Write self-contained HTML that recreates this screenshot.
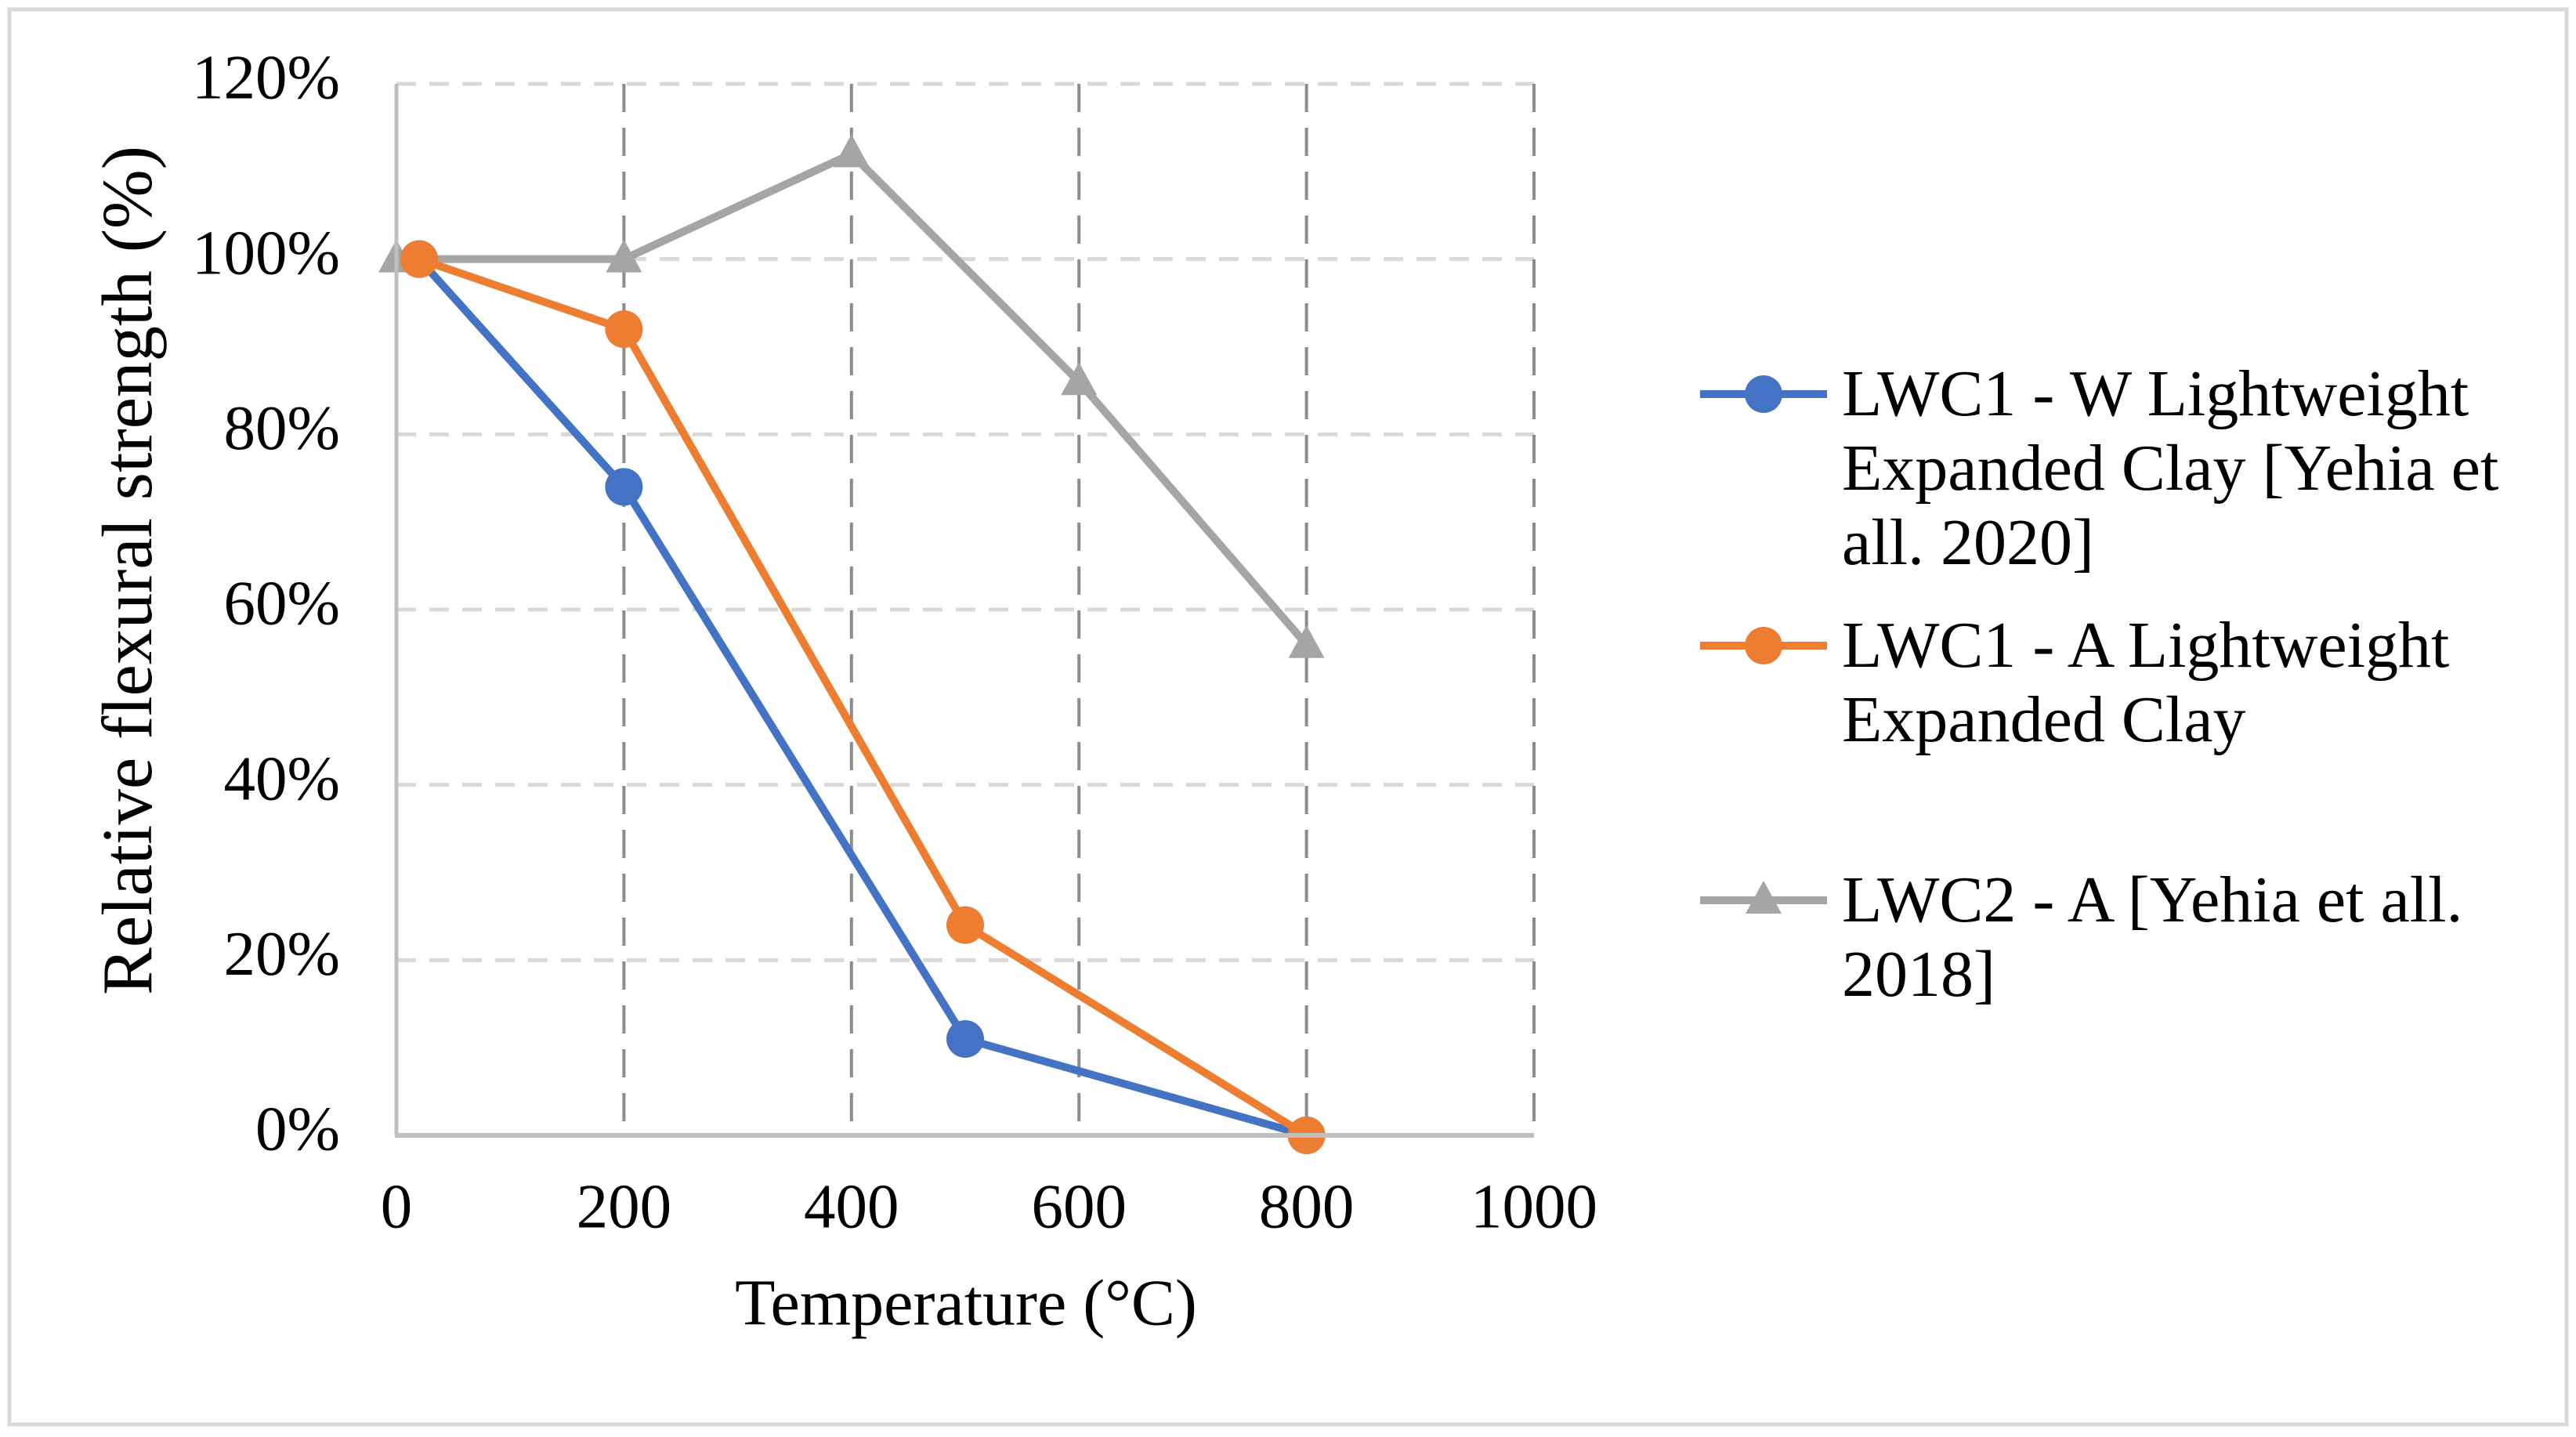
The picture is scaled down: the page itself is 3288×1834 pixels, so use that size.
<!DOCTYPE html>
<html><head><meta charset="utf-8"><style>
html,body{margin:0;padding:0;background:#fff;}
svg{display:block;font-family:"Liberation Serif",serif;}
</style></head><body>
<svg id="chart" width="3288" height="1834" viewBox="0 0 3288 1834" xmlns="http://www.w3.org/2000/svg">
<rect x="12" y="12" width="3264" height="1806" fill="#fff" stroke="#d9d9d9" stroke-width="5"/>
<g id="grid"></g>
<g id="series"></g>
<g id="axes"></g>
<text x="172" y="728" font-size="91" text-anchor="middle" dominant-baseline="middle" transform="rotate(-90 172 728)">Relative flexural strength (%)</text>
<text x="1233" y="1671" font-size="84" text-anchor="middle" dominant-baseline="middle">Temperature (°C)</text>
<g id="legend" font-size="84">
  <g>
    <line x1="2170" y1="503" x2="2332" y2="503" stroke="#4472c4" stroke-width="10"/>
    <circle cx="2251" cy="503" r="24" fill="#4472c4"/>
    <text x="2351" y="530">LWC1 - W Lightweight</text>
    <text x="2351" y="625">Expanded Clay [Yehia et</text>
    <text x="2351" y="720">all. 2020]</text>
  </g>
  <g>
    <line x1="2170" y1="824" x2="2332" y2="824" stroke="#ed7d31" stroke-width="10"/>
    <circle cx="2251" cy="824" r="24" fill="#ed7d31"/>
    <text x="2351" y="851">LWC1 - A Lightweight</text>
    <text x="2351" y="946">Expanded Clay</text>
  </g>
  <g>
    <line x1="2170" y1="1149" x2="2332" y2="1149" stroke="#a5a5a5" stroke-width="10"/>
    <polygon points="2251,1124 2274,1166 2228,1166" fill="#a5a5a5"/>
    <text x="2351" y="1176">LWC2 - A [Yehia et all.</text>
    <text x="2351" y="1271">2018]</text>
  </g>
</g>
</svg>
<script>
const xTicks = [0, 200, 400, 600, 800, 1000];
const yTicks = [0, 20, 40, 60, 80, 100, 120];
const yTickLabels = ["0%", "20%", "40%", "60%", "80%", "100%", "120%"];
const blueX = [20, 200, 500, 800];
const blueY = [100, 74, 11, 0];
const orangeX = [20, 200, 500, 800];
const orangeY = [100, 92, 24, 0];
const grayX = [0, 200, 400, 600, 800];
const grayY = [100, 100, 112, 86, 56];

const NS = "http://www.w3.org/2000/svg";
const X0 = 506, X1 = 1958, Y0 = 1449, Y1 = 107;
function sx(v){ return X0 + (v - 0) / 1000 * (X1 - X0); }
function sy(v){ return Y0 - (v - 0) / 120 * (Y0 - Y1); }
function mk(tag, attrs, parent){ const e = document.createElementNS(NS, tag); for (const k in attrs) e.setAttribute(k, attrs[k]); parent.appendChild(e); return e; }

const grid = document.getElementById('grid');
const axes = document.getElementById('axes');
const series = document.getElementById('series');

yTicks.forEach((t, i) => {
  if (t > 0) {
    const l = mk('line', {x1: X0, y1: sy(t), x2: X1, y2: sy(t), stroke: '#d9d9d9', 'stroke-width': 5, 'stroke-dasharray': '25 17'}, grid);
    
    
  }
  const tx = mk('text', {x: 434, y: sy(t), 'font-size': 81, 'text-anchor': 'end', 'dominant-baseline': 'middle'}, axes);
  tx.textContent = yTickLabels[i];
  
  
});
xTicks.forEach(t => {
  if (t > 0) {
    const l = mk('line', {x1: sx(t), y1: Y1, x2: sx(t), y2: Y0, stroke: '#8c8c8c', 'stroke-width': 4, 'stroke-dasharray': '36 20'}, grid);
    
    
  }
  const tx = mk('text', {x: sx(t), y: 1548, 'font-size': 81, 'text-anchor': 'middle', 'dominant-baseline': 'middle'}, axes);
  tx.textContent = String(t);
  
  
});
const ya = mk('line', {x1: X0, y1: Y1, x2: X0, y2: Y0, stroke: '#bfbfbf', 'stroke-width': 5}, axes);


const xa = mk('line', {x1: X0 - 2, y1: Y0, x2: X1, y2: Y0, stroke: '#bfbfbf', 'stroke-width': 6}, axes);



function drawSeries(xs, ys, color, marker, name){
  const g = mk('g', {}, series);
  
  
  const pts = xs.map((x, i) => sx(x) + ',' + sy(ys[i])).join(' ');
  const pl = mk('polyline', {points: pts, fill: 'none', stroke: color, 'stroke-width': 10, 'stroke-linejoin': 'round'}, g);
  
  
  xs.forEach((x, i) => {
    const cx = sx(x), cy = sy(ys[i]);
    let m;
    if (marker === 'circle') m = mk('circle', {cx: cx, cy: cy, r: 24, fill: color}, g);
    else m = mk('polygon', {points: `${cx},${cy-25} ${cx+23},${cy+17} ${cx-23},${cy+17}`, fill: color}, g);
    
    
  });
}
drawSeries(grayX, grayY, '#a5a5a5', 'triangle', 'series-lwc2-a');
drawSeries(blueX, blueY, '#4472c4', 'circle', 'series-lwc1-w');
drawSeries(orangeX, orangeY, '#ed7d31', 'circle', 'series-lwc1-a');
</script>
</body></html>
